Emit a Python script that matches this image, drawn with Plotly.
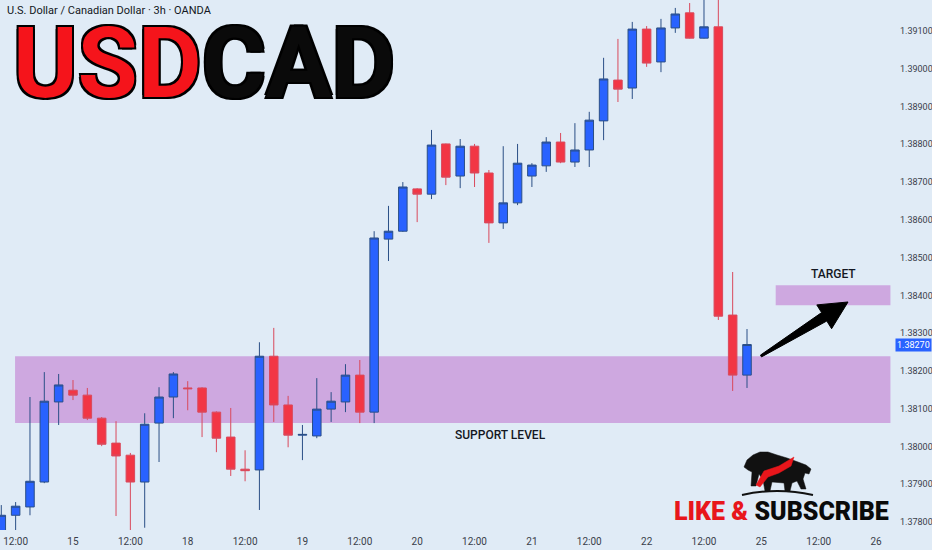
import plotly.graph_objects as go

# ---------------- data (3h bars, USD/CAD, OANDA) ----------------
bar_index = list(range(-5, 48))
open_ = [1.37765, 1.37818, 1.37840, 1.37906, 1.38118, 1.38149, 1.38136, 1.38075, 1.38009, 1.37977,
         1.37906, 1.38062, 1.38131, 1.38155, 1.38155, 1.38091, 1.38025, 1.37940, 1.37938, 1.38239,
         1.38110, 1.38030, 1.38028, 1.38099, 1.38118, 1.38189, 1.38091, 1.38549, 1.38570, 1.38682,
         1.38668, 1.38801, 1.38716, 1.38795, 1.38724, 1.38592, 1.38645, 1.38716, 1.38743, 1.38806,
         1.38753, 1.38785, 1.38862, 1.38970, 1.38949, 1.39105, 1.39018, 1.39108, 1.39148, 1.39081,
         1.39111, 1.38348, 1.38189]
high_ = [1.37845, 1.37853, 1.38131, 1.38197, 1.38192, 1.38176, 1.38155, 1.38078, 1.38067, 1.37983,
         1.38088, 1.38157, 1.38197, 1.38173, 1.38157, 1.38093, 1.38102, 1.37990, 1.38276, 1.38314,
         1.38134, 1.38057, 1.38181, 1.38144, 1.38218, 1.38229, 1.38570, 1.38637, 1.38700, 1.38684,
         1.38838, 1.38802, 1.38814, 1.38801, 1.38732, 1.38795, 1.38801, 1.38750, 1.38819, 1.38830,
         1.38856, 1.38886, 1.39029, 1.39079, 1.39124, 1.39113, 1.39132, 1.39161, 1.39174, 1.39209,
         1.39195, 1.38462, 1.38311]
low_ = [1.37739, 1.37779, 1.37818, 1.37903, 1.38057, 1.38123, 1.38070, 1.38001, 1.37816, 1.37777,
        1.37785, 1.37959, 1.38075, 1.38096, 1.38025, 1.37985, 1.37922, 1.37908, 1.37832, 1.38065,
        1.37998, 1.37964, 1.38022, 1.38065, 1.38091, 1.38062, 1.38062, 1.38491, 1.38568, 1.38594,
        1.38655, 1.38692, 1.38684, 1.38687, 1.38539, 1.38576, 1.38639, 1.38687, 1.38727, 1.38750,
        1.38740, 1.38740, 1.38811, 1.38912, 1.38920, 1.39005, 1.38991, 1.39095, 1.39080, 1.39080,
        1.38335, 1.38147, 1.38155]
close_ = [1.37818, 1.37842, 1.37908, 1.38120, 1.38163, 1.38136, 1.38075, 1.38006, 1.37975, 1.37906,
          1.38059, 1.38131, 1.38192, 1.38153, 1.38091, 1.38022, 1.37940, 1.37936, 1.38239, 1.38110,
          1.38030, 1.38032, 1.38099, 1.38120, 1.38189, 1.38091, 1.38552, 1.38570, 1.38687, 1.38668,
          1.38798, 1.38713, 1.38795, 1.38724, 1.38592, 1.38645, 1.38750, 1.38745, 1.38806, 1.38753,
          1.38785, 1.38864, 1.38973, 1.38946, 1.39105, 1.39015, 1.39108, 1.39145, 1.39081, 1.39111,
          1.38345, 1.38189, 1.38270]

x_tick_pos = [-4, 0, 4, 8, 12, 16, 20, 24, 28, 32, 36, 40, 44, 48, 52, 56]
x_tick_labels = ["12:00", "15", "12:00", "18", "12:00", "19", "12:00", "20", "12:00", "21",
                 "12:00", "22", "12:00", "25", "12:00", "26"]
y_tick_vals = [1.378, 1.379, 1.380, 1.381, 1.382, 1.383, 1.384, 1.385, 1.386, 1.387, 1.388, 1.389, 1.390, 1.391]

support_zone = (1.38062, 1.38239)
target_zone = (1.38374, 1.38427)
last_price = 1.38270

# ---------------- figure ----------------
W, H = 932, 550
ML, MR, MT, MB = 0, 39, 0, 20
PW, PH = W - ML - MR, H - MT - MB
BG = "#e0ebf6"


def px(xp, yp):
    """pixel (within plot area) -> paper coords"""
    return xp / PW, 1 - yp / PH


def path_from(points, close=True):
    s = ""
    for k, (a, b) in enumerate(points):
        xx, yy = px(a, b)
        s += ("M" if k == 0 else "L") + f"{xx:.5f},{yy:.5f} "
    return s + ("Z" if close else "")


fig = go.Figure()
fig.add_trace(go.Candlestick(
    x=bar_index, open=open_, high=high_, low=low_, close=close_,
    increasing=dict(fillcolor="#2962ff", line=dict(color="#2b4f86", width=1)),
    decreasing=dict(fillcolor="#f23645", line=dict(color="#d9495c", width=1)),
    whiskerwidth=0, showlegend=False, hoverinfo="skip",
))

shapes = [
    dict(type="rect", xref="x", yref="y", x0=-4.04, x1=57.0, y0=support_zone[0], y1=support_zone[1],
         fillcolor="#cea8e0", line=dict(width=0), layer="below"),
    dict(type="rect", xref="x", yref="y", x0=49.0, x1=57.0, y0=target_zone[0], y1=target_zone[1],
         fillcolor="#cea8e0", line=dict(width=0), layer="below"),
]

# tapered arrow
arrow_pts = [(760.5, 355.1), (821.6, 312.6), (816.8, 304.9), (848, 302), (831.6, 328.7),
             (826.8, 321.0), (761.5, 356.9)]
shapes.append(dict(type="path", xref="paper", yref="paper", path=path_from(arrow_pts),
                   fillcolor="#000000", line=dict(color="#000000", width=1)))

# bear logo (rough silhouette)
bear = [(744, 467), (747, 460), (753, 455), (760, 452), (768, 452), (777, 455), (787, 458), (798, 462),
        (806, 465), (811, 469), (809, 474), (805, 473), (803, 479), (806, 489), (801, 489), (797, 481),
        (792, 483), (790, 491), (785, 491), (784, 483), (772, 482), (770, 491), (765, 491), (763, 480),
        (759, 474), (756, 486), (751, 486), (752, 472), (748, 470)]
shapes.append(dict(type="path", xref="paper", yref="paper", path=path_from(bear),
                   fillcolor="#111111", line=dict(color="#111111", width=0.5)))
swoosh = [(756, 485), (764, 471), (779, 466), (794, 457), (791, 466), (779, 473), (768, 477), (760, 487)]
shapes.append(dict(type="path", xref="paper", yref="paper", path=path_from(swoosh),
                   fillcolor="#e8161b", line=dict(color="#e8161b", width=0.5)))
a0 = px(742, 495); a1 = px(777, 487); a2 = px(813, 495)
shapes.append(dict(type="path", xref="paper", yref="paper",
                   path=f"M{a0[0]:.5f},{a0[1]:.5f} Q{a1[0]:.5f},{a1[1]:.5f} {a2[0]:.5f},{a2[1]:.5f}",
                   line=dict(color="#111111", width=2)))

annotations = []
sx, sy = px(5, 11)
annotations.append(dict(xref="paper", yref="paper", x=sx, y=sy, xanchor="left", yanchor="middle",
                        text="U.S. Dollar / Canadian Dollar · 3h · OANDA", showarrow=False,
                        font=dict(family="Roboto", size=11, color="#131722")))
tx, ty = px(11, 64)
annotations.append(dict(xref="paper", yref="paper", x=tx, y=ty, xanchor="left", yanchor="middle",
                        text="<span style='color:#f5141b'>USD</span>CAD", showarrow=False,
                        font=dict(family="Roboto", size=98, color="#0a0a0a", weight=700,
                                  shadow="2px 2px 0 #000, -2px -2px 0 #000, 2px -2px 0 #000, -2px 2px 0 #000")))
lx, ly = px(781, 511)
annotations.append(dict(xref="paper", yref="paper", x=lx, y=ly, xanchor="center", yanchor="middle",
                        text="<span style='color:#e8161b'>LIKE &amp;</span> SUBSCRIBE", showarrow=False,
                        font=dict(family="Roboto", size=25, color="#0a0a0a", weight=900)))
annotations.append(dict(xref="x", yref="y", x=29.8, y=1.38030, text="SUPPORT LEVEL", showarrow=False,
                        font=dict(family="Roboto", size=12, color="#131722", weight=500)))
annotations.append(dict(xref="x", yref="y", x=53.0, y=1.38457, text="TARGET", showarrow=False,
                        font=dict(family="Roboto", size=12, color="#131722", weight=500)))
annotations.append(dict(xref="paper", yref="y", x=913.5 / PW, y=last_price, xanchor="center", yanchor="middle",
                        text=f"{last_price:.5f}", showarrow=False, bgcolor="#2962ff", borderpad=1,
                        font=dict(family="Roboto", size=9, color="#ffffff")))

fig.update_layout(
    width=W, height=H, autosize=False,
    margin=dict(l=ML, r=MR, t=MT, b=MB, pad=0),
    paper_bgcolor=BG, plot_bgcolor=BG,
    shapes=shapes, annotations=annotations,
    showlegend=False, boxgap=0.15,
    xaxis=dict(range=[-5.09, 57.18], tickvals=x_tick_pos, ticktext=x_tick_labels, showgrid=False,
               zeroline=False, showline=False, rangeslider=dict(visible=False), ticks="",
               ticklabelstandoff=4, automargin=False,
               tickfont=dict(family="Roboto", size=10, color="#3a3e4a")),
    yaxis=dict(range=[1.37779, 1.39182], side="right", tickvals=y_tick_vals,
               ticktext=[f"{v:.5f}" for v in y_tick_vals], showgrid=False, zeroline=False,
               showline=False, ticks="", ticklabelstandoff=6, automargin=False,
               tickfont=dict(family="Roboto", size=9, color="#3a3e4a")),
)

fig.write_html("out.html", config={"displayModeBar": False},
               post_script="document.body.style.margin='0';document.body.style.background='%s';" % BG)
